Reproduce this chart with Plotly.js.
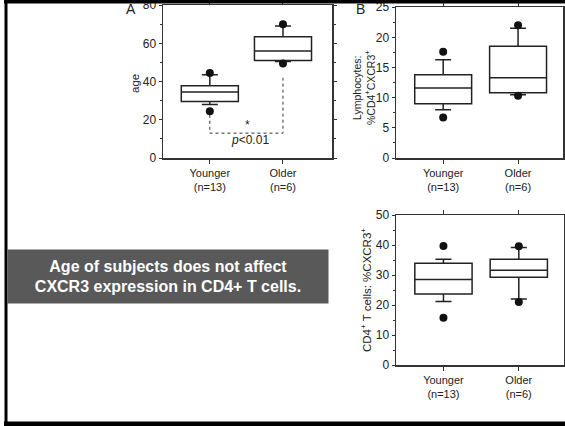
<!DOCTYPE html>
<html>
<head>
<meta charset="utf-8">
<script src="https://cdn.plot.ly/plotly-3.0.1.min.js"></script>
<style>html,body{margin:0;padding:0;background:#fff;}#chart{width:565px;height:426px;}</style>
</head>
<body>
<div id="chart"></div>
<script>
// ---- data ----
const categories = ['Younger', 'Older'];
const counts = [13, 6];

// Panel A: age
const ageQ1 = [29.5, 51.0];
const ageMedian = [34.5, 56.0];
const ageQ3 = [37.8, 63.5];
const ageLowWhisker = [28.0, 50.5];
const ageHighWhisker = [43.5, 69.0];
const ageOutlierYounger = [44.5, 24.5];
const ageOutlierOlder = [70.0, 49.5];

// Panel B: Lymphocytes %CD4+CXCR3+
const lymQ1 = [9.0, 10.8];
const lymMedian = [11.6, 13.3];
const lymQ3 = [13.8, 18.5];
const lymLowWhisker = [8.0, 10.5];
const lymHighWhisker = [16.3, 21.5];
const lymOutlierYounger = [17.6, 6.7];
const lymOutlierOlder = [22.0, 10.3];

// Panel C: CD4+ T cells %CXCR3+
const cd4Q1 = [23.7, 29.3];
const cd4Median = [28.5, 31.6];
const cd4Q3 = [33.9, 35.3];
const cd4LowWhisker = [21.2, 22.0];
const cd4HighWhisker = [35.3, 39.2];
const cd4OutlierYounger = [39.7, 15.8];
const cd4OutlierOlder = [39.6, 21.0];

// significance bracket in panel A
const bracketY = [22.6, 13.0, 13.0, 43.0];
const starY = 17.5;
const pY = 9.5;

// ---- build ----
const labels = categories.map((c, i) => c + '<br>(n=' + counts[i] + ')');
const FONT = 'Liberation Sans, Arial, Helvetica, sans-serif';
const INK = '#222222';

function boxTrace(q1, med, q3, lo, hi, xa, ya, w) {
  return {
    type: 'box', x: labels, q1: q1, median: med, q3: q3,
    lowerfence: lo, upperfence: hi,
    xaxis: xa, yaxis: ya, width: w, whiskerwidth: 0.28,
    fillcolor: '#ffffff', line: {color: INK, width: 1.5},
    boxpoints: false, showlegend: false, hoverinfo: 'skip'
  };
}
function dotTrace(yy, yo, xa, ya) {
  return {
    type: 'scatter', mode: 'markers',
    x: [labels[0], labels[0], labels[1], labels[1]],
    y: [yy[0], yy[1], yo[0], yo[1]],
    xaxis: xa, yaxis: ya,
    marker: {color: '#111', size: 8},
    showlegend: false, hoverinfo: 'skip'
  };
}

const traces = [
  boxTrace(ageQ1, ageMedian, ageQ3, ageLowWhisker, ageHighWhisker, 'x', 'y', 0.78),
  dotTrace(ageOutlierYounger, ageOutlierOlder, 'x', 'y'),
  {
    type: 'scatter', mode: 'lines',
    x: [labels[0], labels[0], labels[1], labels[1]], y: bracketY,
    xaxis: 'x', yaxis: 'y',
    line: {color: '#333', width: 1, dash: 'dot'},
    showlegend: false, hoverinfo: 'skip'
  },
  boxTrace(lymQ1, lymMedian, lymQ3, lymLowWhisker, lymHighWhisker, 'x2', 'y2', 0.76),
  dotTrace(lymOutlierYounger, lymOutlierOlder, 'x2', 'y2'),
  boxTrace(cd4Q1, cd4Median, cd4Q3, cd4LowWhisker, cd4HighWhisker, 'x3', 'y3', 0.76),
  dotTrace(cd4OutlierYounger, cd4OutlierOlder, 'x3', 'y3')
];

function xAxis(dom, anchor, range) {
  return {
    domain: dom, anchor: anchor, type: 'category', range: range,
    showline: true, linecolor: '#333', linewidth: 1.5, mirror: 'allticks',
    ticks: 'outside', ticklen: 4, tickcolor: '#333', tickwidth: 1,
    showgrid: false, zeroline: false, fixedrange: true,
    tickfont: {family: FONT, size: 11, color: INK}
  };
}
function yAxis(dom, anchor, range, dtick, minor) {
  return {
    domain: dom, anchor: anchor, range: range, dtick: dtick,
    showline: true, linecolor: '#333', linewidth: 1.5, mirror: 'allticks',
    ticks: 'outside', ticklen: 3, tickcolor: '#333', tickwidth: 1,
    minor: {dtick: minor, ticks: 'outside', ticklen: 2, tickcolor: '#333'},
    showgrid: false, zeroline: false, fixedrange: true,
    ticklabeloverflow: 'allow',
    tickfont: {family: FONT, size: 12, color: INK}
  };
}

const W = 565, H = 426;
const px = v => v / W, py = v => 1 - v / H;

function ytitle(x, y, text, size) {
  return {xref: 'paper', yref: 'paper', x: px(x), y: py(y), xanchor: 'center', yanchor: 'middle',
    textangle: -90, text: text, showarrow: false,
    font: {family: FONT, size: size, color: INK}};
}

const layout = {
  width: W, height: H,
  margin: {l: 0, r: 0, t: 0, b: 0},
  paper_bgcolor: '#ffffff', plot_bgcolor: '#ffffff',
  showlegend: false,
  xaxis: xAxis([px(163), px(332)], 'y', [-0.64, 1.67]),
  yaxis: yAxis([py(158), py(5)], 'x', [0, 80.05], 20, 10),
  xaxis2: xAxis([px(396), px(563)], 'y2', [-0.63, 1.6]),
  yaxis2: yAxis([py(158), py(7)], 'x2', [0, 25.02], 5, 2.5),
  xaxis3: xAxis([px(396), px(564)], 'y3', [-0.63, 1.6]),
  yaxis3: yAxis([py(365), py(215)], 'x3', [0, 50.03], 10, 5),
  annotations: [
    ytitle(135, 84, 'age', 11.5),
    ytitle(364, 88, 'Lymphocytes:<br>%CD4<sup>+</sup>CXCR3<sup>+</sup>', 10.5),
    ytitle(366, 290, 'CD4<sup>+</sup> T cells: %CXCR3<sup>+</sup>', 11.5),
    {xref: 'x', yref: 'y', x: 0.52, y: starY, text: '*', showarrow: false,
     font: {family: FONT, size: 12, color: INK}},
    {xref: 'x', yref: 'y', x: 0.55, y: pY, text: '<i>p</i><0.01', showarrow: false,
     font: {family: FONT, size: 12, color: INK}},
    {xref: 'paper', yref: 'paper', x: px(131), y: py(9), xanchor: 'center', yanchor: 'middle',
     text: 'A', showarrow: false, font: {family: FONT, size: 14, color: INK}},
    {xref: 'paper', yref: 'paper', x: px(361), y: py(9), xanchor: 'center', yanchor: 'middle',
     text: 'B', showarrow: false, font: {family: FONT, size: 14, color: INK}},
    {xref: 'paper', yref: 'paper', x: px(168), y: py(276.5), xanchor: 'center', yanchor: 'middle',
     width: 318, height: 51, bgcolor: '#595959', borderpad: 1,
     text: '<b>Age of subjects does not affect<br>CXCR3 expression in CD4+ T cells.</b>',
     showarrow: false, align: 'center',
     font: {family: FONT, size: 16, color: '#ffffff'}}
  ],
  shapes: [
    {type: 'line', xref: 'paper', yref: 'paper', x0: px(4), x1: 1, y0: py(1.5), y1: py(1.5),
     line: {color: '#000', width: 4}},
    {type: 'line', xref: 'paper', yref: 'paper', x0: px(6), x1: px(6), y0: py(0), y1: py(426),
     line: {color: '#000', width: 3}},
    {type: 'line', xref: 'paper', yref: 'paper', x0: px(4), x1: 1, y0: py(424), y1: py(424),
     line: {color: '#000', width: 5}}
  ]
};

Plotly.newPlot('chart', traces, layout, {staticPlot: true, displayModeBar: false});
</script>
</body>
</html>
